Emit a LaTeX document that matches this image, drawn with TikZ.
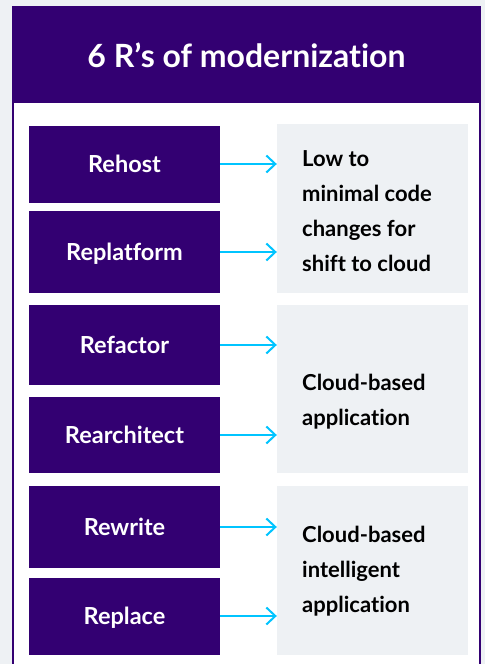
\documentclass[tikz,border=0pt]{standalone}
\usepackage{fontspec}
\setmainfont{Lato}[Ligatures=CommonOff]
\usetikzlibrary{arrows.meta}
\definecolor{rpurple}{RGB}{51,0,114}
\definecolor{rgray}{RGB}{238,241,244}
\definecolor{rcyan}{RGB}{0,196,255}

\begin{document}
\begin{tikzpicture}[x=1pt,y=-1pt,
	rbox/.style={fill=rpurple,text=white,font=\fontsize{23.5}{26}\selectfont\bfseries,
		minimum width=191pt,text height=17pt,text depth=0pt,inner sep=0pt},
	gbox/.style={fill=rgray,minimum width=191pt,inner sep=0pt},
	gtext/.style={anchor=north west,align=left,inner sep=0pt,
		font=\fontsize{22}{35}\selectfont\bfseries},
	arr/.style={rcyan,line width=2pt,-{Straight Barb[length=9pt,width=17pt,line width=2pt]}}]
	% page and frame
	\useasboundingbox[fill=rgray] (0,0) rectangle (485,664);
	\fill[white,draw=rpurple,line width=1.2pt] (13,7) rectangle (480,700);
	\fill[rpurple] (13,7) rectangle (480,103);
	\node[text=white,font=\fontsize{32}{36}\selectfont\bfseries,anchor=base] (title) at (246.5,67) {6 R’s of modernization};
	% the six R's
	\node[rbox,minimum height=77pt] (rehost) at (124.5,164) {Rehost};
	\node[rbox,minimum height=82pt] (replatform) at (124.5,252) {Replatform};
	\node[rbox,minimum height=80pt] (refactor) at (124.5,345) {Refactor};
	\node[rbox,minimum height=76pt] (rearchitect) at (124.5,435) {Rearchitect};
	\node[rbox,minimum height=82pt] (rewrite) at (124.5,527) {Rewrite};
	\node[rbox,minimum height=77pt] (replace) at (124.5,616) {Replace};
	% outcomes
	\node[gbox,minimum height=169pt] (lowbox) at (372.5,208.5) {};
	\node[gbox,minimum height=168pt] (cloudbox) at (372.5,389) {};
	\node[gbox,minimum height=169pt] (aibox) at (372.5,570.5) {};
	\node[gtext] (lowtext) at (302,150) {Low to\\minimal code\\changes for\\shift to cloud};
	\node[gtext] (cloudtext) at (302,374) {Cloud-based\\application};
	\node[gtext] (aitext) at (302,526) {Cloud-based\\intelligent\\application};
	% arrows
	\draw[arr] (rehost.east) -- (rehost.east -| lowbox.west);
	\draw[arr] (replatform.east) -- (replatform.east -| lowbox.west);
	\draw[arr] (refactor.east) -- (refactor.east -| cloudbox.west);
	\draw[arr] (rearchitect.east) -- (rearchitect.east -| cloudbox.west);
	\draw[arr] (rewrite.east) -- (rewrite.east -| aibox.west);
	\draw[arr] (replace.east) -- (replace.east -| aibox.west);
\end{tikzpicture}
\end{document}
